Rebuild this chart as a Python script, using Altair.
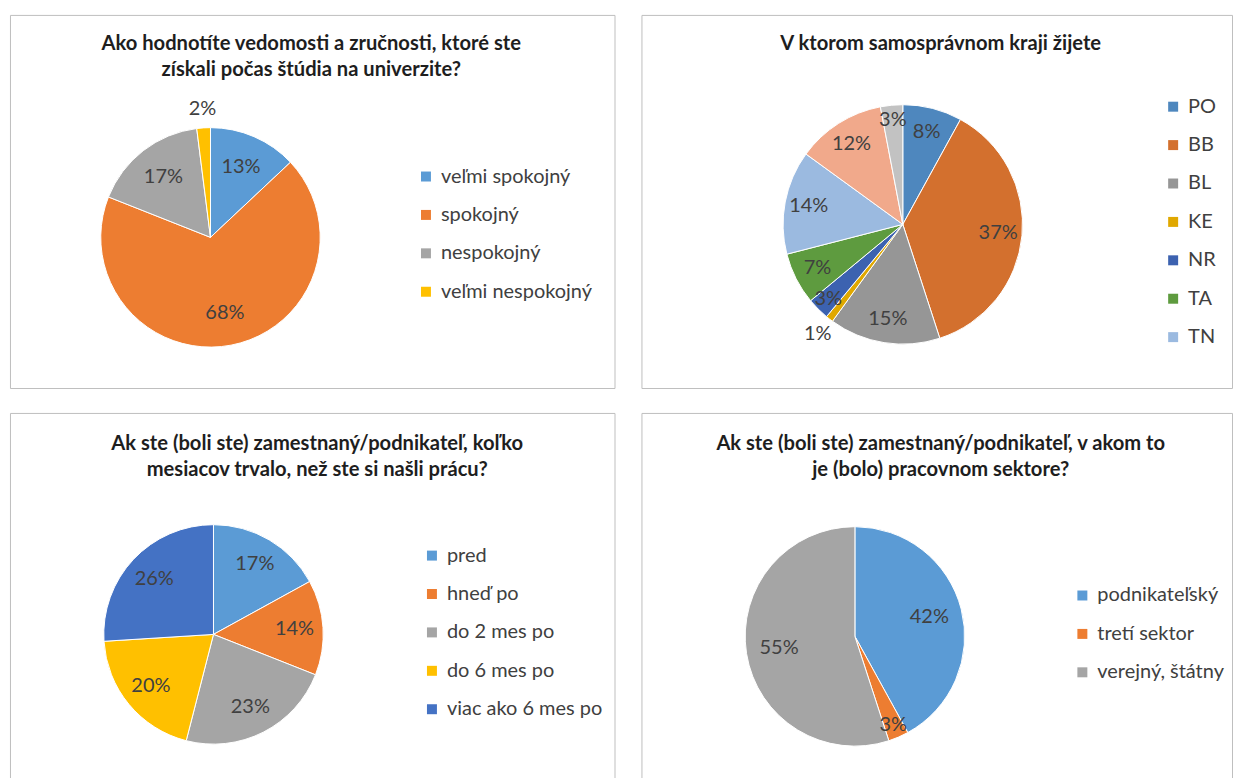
import altair as alt
import pandas as pd

FONT = "Lato"

# ---- Panel 1 ----
title1 = ["Ako hodnotíte vedomosti a zručnosti, ktoré ste", "získali počas štúdia na univerzite?"]
cats1 = ["veľmi spokojný", "spokojný", "nespokojný", "veľmi nespokojný"]
vals1 = [13, 68, 17, 2]
cols1 = ["#5B9BD5", "#ED7D31", "#A5A5A5", "#FFC000"]

# ---- Panel 2 ----
title2 = ["V ktorom samosprávnom kraji žijete"]
cats2 = ["PO", "BB", "BL", "KE", "NR", "TA", "TN", "ZA", "iné"]
vals2 = [8, 37, 15, 1, 3, 7, 14, 12, 3]
cols2 = ["#4E87BE", "#D3702E", "#969696", "#E0A800", "#3C62B0", "#5E9B3F",
         "#9BBAE0", "#F1A98B", "#C2C2C2"]
legend2 = ["PO", "BB", "BL", "KE", "NR", "TA", "TN"]

# ---- Panel 3 ----
title3 = ["Ak ste (boli ste) zamestnaný/podnikateľ, koľko", "mesiacov trvalo, než ste si našli prácu?"]
cats3 = ["pred", "hneď po", "do 2 mes po", "do 6 mes po", "viac ako 6 mes po"]
vals3 = [17, 14, 23, 20, 26]
cols3 = ["#5B9BD5", "#ED7D31", "#A5A5A5", "#FFC000", "#4472C4"]

# ---- Panel 4 ----
title4 = ["Ak ste (boli ste) zamestnaný/podnikateľ, v akom to", "je (bolo) pracovnom sektore?"]
cats4 = ["podnikateľský", "tretí sektor", "verejný, štátny"]
vals4 = [42, 3, 55]
cols4 = ["#5B9BD5", "#ED7D31", "#A5A5A5"]

FS = 20
TFS = 20.2
ROWPAD = 18.5


def panel(title, cats, vals, cols, w, h, cx, cy, r, f, tx, ty, lx, ly, legend_vals=None):
    df = pd.DataFrame({"cat": cats, "v": vals, "idx": list(range(len(cats)))})
    base = alt.Chart(df)
    lkw = dict(orient="none", legendX=lx, legendY=ly, title=None,
               symbolType="square", symbolSize=100, symbolStrokeWidth=0,
               labelFontSize=FS, labelFont=FONT, labelColor="#404040",
               rowPadding=ROWPAD, labelOffset=5, padding=0, labelLimit=400)
    if legend_vals is not None:
        lkw["values"] = legend_vals
    color = alt.Color("cat:N", scale=alt.Scale(domain=cats, range=cols),
                      sort=cats, legend=alt.Legend(**lkw))
    arc = base.mark_arc(outerRadius=r, stroke="white", strokeWidth=1).encode(
        theta=alt.Theta("v:Q", stack=True),
        color=color,
        order=alt.Order("idx:Q"),
        x=alt.value(cx), y=alt.value(cy),
    )
    layers = [arc]
    # label tiers: large slices inside, 3% near the rim, tiny slices outside
    tiers = [("datum.v > 3", r * f), ("datum.v == 3", r * 0.88), ("datum.v < 3", r + 19)]
    for cond, rad in tiers:
        t = base.transform_calculate(
            lab=f"({cond}) ? datum.v + '%' : ''"
        ).mark_text(font=FONT, fontSize=FS, color="#404040", radius=rad).encode(
            theta=alt.Theta("v:Q", stack=True),
            text="lab:N",
            detail="cat:N",
            order=alt.Order("idx:Q"),
            x=alt.value(cx), y=alt.value(cy),
        )
        layers.append(t)
    tdf = pd.DataFrame({"k": [0]})
    ttl = alt.Chart(tdf).mark_text(
        font=FONT, fontSize=TFS, fontWeight="bold", color="#1e1e1e",
        lineHeight=26, baseline="middle", align="center",
    ).encode(text=alt.value(title), x=alt.value(tx), y=alt.value(ty))
    layers.append(ttl)
    return alt.layer(*layers).properties(width=w, height=h)


p1 = panel(title1, cats1, vals1, cols1, 606, 374, 201, 223, 110, 0.7, 302, 29, 407, 152)
p2 = panel(title2, cats2, vals2, cols2, 592, 374, 262, 210, 120, 0.8, 300, 29, 523, 82, legend2)
p3 = panel(title3, cats3, vals3, cols3, 606, 366, 204, 222, 110, 0.74, 308, 31, 413, 133)
p4 = panel(title4, cats4, vals4, cols4, 592, 366, 214, 224, 110, 0.7, 300, 31, 432, 173)

top = alt.hconcat(p1, p2, spacing=25).resolve_scale(color="independent")
bot = alt.hconcat(p3, p4, spacing=25).resolve_scale(color="independent")
chart = alt.vconcat(top, bot, spacing=23).resolve_scale(color="independent").properties(
    padding={"left": 9, "top": 13, "right": 0, "bottom": 0},
    background="white",
).configure_view(stroke="#BFBFBF", strokeWidth=1)

chart.save("out.html", embed_options={"renderer": "svg", "actions": False})
